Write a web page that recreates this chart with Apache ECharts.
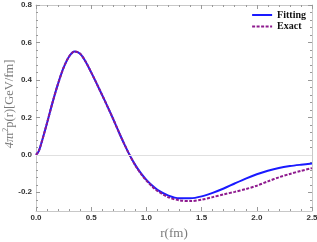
<!DOCTYPE html>
<html><head><meta charset="utf-8">
<script src="https://cdn.jsdelivr.net/npm/echarts@6/dist/echarts.min.js"></script>
<style>html,body{margin:0;padding:0;background:#fff}#c{width:317px;height:242px}</style>
</head><body><div id="c"></div>
<script>
const rValues = [0,0.025,0.05,0.1,0.15,0.2,0.25,0.3,0.35,0.4,0.45,0.5,0.55,0.6,0.65,0.7,0.75,0.8,0.85,0.9,0.95,1.0,1.05,1.1,1.2,1.3,1.4,1.5,1.6,1.7,1.8,1.9,2.0,2.1,2.2,2.3,2.4,2.5];
const fittingValues = [0,0.02,0.065,0.17,0.28,0.38,0.465,0.525,0.552,0.54,0.497,0.44,0.38,0.318,0.255,0.19,0.122,0.057,-0.003,-0.055,-0.098,-0.134,-0.163,-0.187,-0.218,-0.232,-0.232,-0.222,-0.203,-0.18,-0.153,-0.127,-0.104,-0.085,-0.07,-0.06,-0.053,-0.047];
const exactValues = [0,0.02,0.065,0.17,0.28,0.38,0.465,0.525,0.552,0.54,0.497,0.44,0.38,0.318,0.255,0.19,0.122,0.057,-0.004,-0.057,-0.101,-0.138,-0.168,-0.193,-0.227,-0.243,-0.247,-0.24,-0.226,-0.211,-0.198,-0.183,-0.165,-0.142,-0.12,-0.102,-0.086,-0.071];
const xTickLabels = [0,0.5,1.0,1.5,2.0,2.5];
const yTickLabels = [-0.2,0,0.2,0.4,0.6,0.8];
const seriesNames = ['Fitting','Exact'];

const yMinor = [];
for (let v = -0.28; v < 0.8; v += 0.04) yMinor.push(Math.round(v*100)/100);

const frameColor = '#c8c8c8';
const tickColor = '#999';
const labelStyle = {fontFamily:'Liberation Sans', fontWeight:'bold', fontSize:8, color:'#333'};

function yAx(pos, values, len, labels, line) {
  return {
    type:'value', position:pos, min:-0.3, max:0.8,
    axisLine:{show:line, lineStyle:{color:frameColor, width:1}},
    axisTick:{show:true, inside:true, length:len, customValues:values, lineStyle:{color:tickColor}},
    axisLabel:labels ? Object.assign({show:true, customValues:yTickLabels, margin:4, formatter:v=>v.toFixed(1)}, labelStyle) : {show:false},
    splitLine:{show:false}
  };
}
const yAxes = [yAx('left', yTickLabels, 4, true, true), yAx('left', yMinor, 2, false, false),
               yAx('right', yTickLabels, 4, false, true), yAx('right', yMinor, 2, false, false)];
yAxes[0].name = '{i|4π}r{s|2}p(r)[GeV/fm]';
yAxes[0].nameLocation = 'middle';
yAxes[0].nameGap = 19;
yAxes[0].nameMoveOverlap = false;
yAxes[0].nameTextStyle = {fontFamily:'Liberation Serif', fontSize:12.5, color:'#7a7a7a', padding:[0,0,0,8],
  rich:{ i:{fontFamily:'Liberation Serif', fontStyle:'italic', fontSize:12.5, color:'#7a7a7a'},
         s:{fontFamily:'Liberation Serif', fontSize:8, color:'#7a7a7a', padding:[0,0,7,0]} }};

function xAx(pos, labels) {
  return {
    type:'value', position:pos, min:0, max:2.5, interval:0.5,
    axisLine:{show:true, onZero:false, lineStyle:{color:frameColor, width:1}},
    axisTick:{show:true, inside:true, length:4, lineStyle:{color:tickColor}},
    minorTick:{show:true, splitNumber:5, length:2, lineStyle:{color:tickColor}},
    axisLabel:labels ? Object.assign({show:true, margin:3, formatter:v=>v.toFixed(1)}, labelStyle) : {show:false},
    splitLine:{show:false}
  };
}
const xAxes = [xAx('bottom', true), xAx('top', false)];
xAxes[0].name = 'r(fm)';
xAxes[0].nameLocation = 'middle';
xAxes[0].nameGap = 16;
xAxes[0].nameMoveOverlap = false;
xAxes[0].nameTextStyle = {fontFamily:'Liberation Serif', fontSize:13, color:'#7a7a7a'};

const chart = echarts.init(document.getElementById('c'), null, {renderer:'canvas'});
chart.setOption({
  animation:false,
  backgroundColor:'#fff',
  grid:{left:36, right:5, top:5, bottom:31, containLabel:false, outerBoundsMode:'none'},
  legend:{
    orient:'vertical', right:6, top:5, itemWidth:20, itemHeight:8, itemGap:1.5,
    itemStyle:{opacity:0},
    textStyle:{fontFamily:'Liberation Serif', fontWeight:'bold', fontSize:10, color:'#111'},
    data:seriesNames
  },
  xAxis:xAxes,
  yAxis:yAxes,
  series:[
    {name:seriesNames[0], type:'line', xAxisIndex:0, yAxisIndex:0, smooth:0.3, symbol:'none', showSymbol:false,
     lineStyle:{color:'#1a1aff', width:2}, itemStyle:{color:'#1a1aff'},
     data:rValues.map((r,i)=>[r, fittingValues[i]]),
     markLine:{silent:true, symbol:'none', label:{show:false}, lineStyle:{color:'#e0e0e0', type:'solid', width:1}, data:[{yAxis:0}]}},
    {name:seriesNames[1], type:'line', xAxisIndex:0, yAxisIndex:0, smooth:0.3, symbol:'none', showSymbol:false,
     lineStyle:{color:'#8e1a8e', width:2, type:[3,1.5]}, itemStyle:{color:'#8e1a8e'},
     data:rValues.map((r,i)=>[r, exactValues[i]])}
  ]
});
</script></body></html>
